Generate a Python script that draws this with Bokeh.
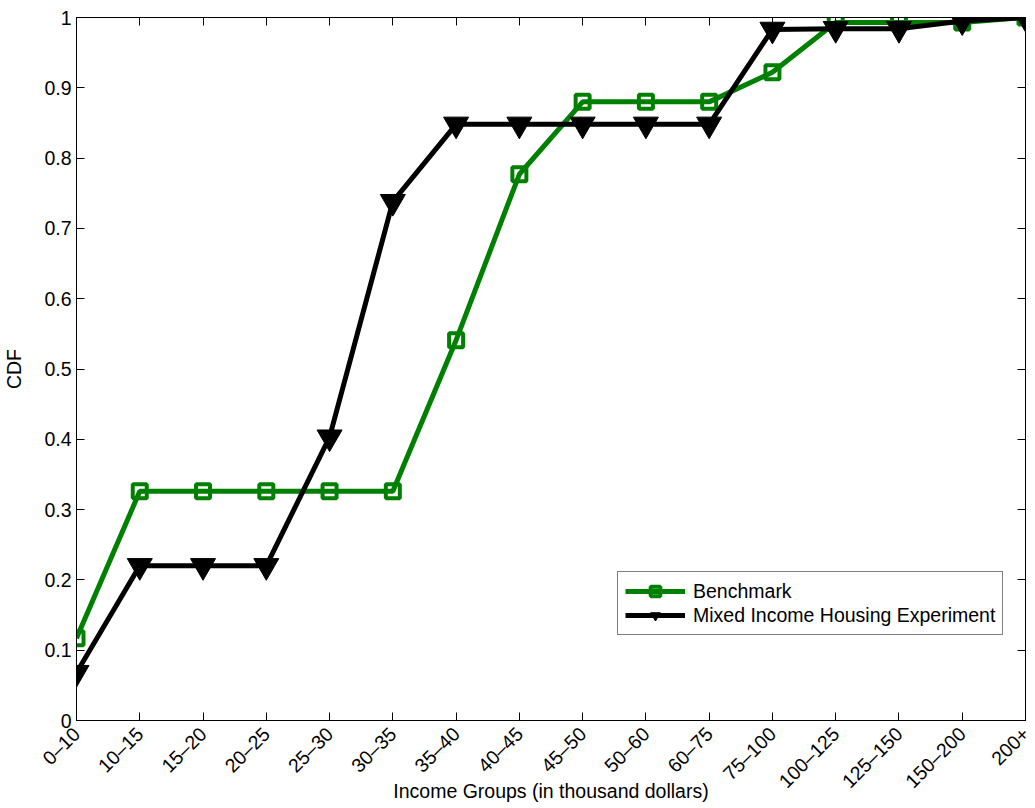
from math import pi
from bokeh.plotting import figure
from bokeh.models import (FixedTicker, LinearAxis, Legend, LegendItem, Range1d,
                          CustomLabelingPolicy)
from bokeh.embed import file_html
from bokeh.resources import INLINE

categories = ["0\u201310", "10\u201315", "15\u201320", "20\u201325", "25\u201330", "30\u201335",
              "35\u201340", "40\u201345", "45\u201350", "50\u201360", "60\u201375", "75\u2013100",
              "100\u2013125", "125\u2013150", "150\u2013200", "200+"]
benchmark = [0.117, 0.326, 0.326, 0.326, 0.326, 0.326, 0.541, 0.777, 0.880, 0.880,
             0.880, 0.922, 0.993, 0.993, 0.993, 1.0]
mixed = [0.068, 0.220, 0.220, 0.220, 0.403, 0.738, 0.848, 0.848, 0.848, 0.848,
         0.848, 0.983, 0.984, 0.984, 0.995, 1.0]
y_ticks = [0, 0.1, 0.2, 0.3, 0.4, 0.5, 0.6, 0.7, 0.8, 0.9, 1]
y_tick_labels = ["0", "0.1", "0.2", "0.3", "0.4", "0.5", "0.6", "0.7", "0.8", "0.9", "1"]

x_pos = list(range(len(categories)))
FONT = "Liberation Sans"
FS = "19.5px"

p = figure(frame_width=949, frame_height=703, output_backend="svg", toolbar_location=None,
           x_range=Range1d(0, len(categories) - 1), y_range=Range1d(0, 1),
           min_border_left=76, min_border_right=10, min_border_top=17, min_border_bottom=88)
p.grid.visible = False
p.outline_line_color = "black"
p.outline_line_width = 1
p.background_fill_color = "white"
p.border_fill_color = "white"

# x axis
xa = p.xaxis[0]
xa.ticker = FixedTicker(ticks=x_pos)
xa.major_label_overrides = {i: c for i, c in zip(x_pos, categories)}
xa.major_label_orientation = pi / 4
xa.major_tick_in = 8
xa.major_tick_out = 0
xa.minor_tick_line_color = None
xa.axis_label = "Income Groups (in thousand dollars)"

# y axis
ya = p.yaxis[0]
ya.ticker = FixedTicker(ticks=y_ticks)
ya.major_label_overrides = {t: l for t, l in zip(y_ticks, y_tick_labels)}
ya.major_tick_in = 8
ya.major_tick_out = 0
ya.minor_tick_line_color = None
ya.axis_label = "CDF"

for ax in (xa, ya):
    ax.axis_line_color = "black"
    ax.major_tick_line_color = "black"
    ax.major_label_text_font = FONT
    ax.major_label_text_font_size = FS
    ax.major_label_text_color = "black"
    ax.axis_label_text_font = FONT
    ax.axis_label_text_font_size = FS
    ax.axis_label_text_font_style = "normal"
    ax.axis_label_text_color = "black"
xa.major_label_standoff = 10
xa.axis_label_standoff = -23
ya.major_label_standoff = 5
ya.axis_label_standoff = 16

# mirrored ticks on top and right (no labels)
hide = "for (const i of indices) indices.unset(i); return indices"
top = LinearAxis(ticker=FixedTicker(ticks=x_pos), major_tick_in=8, major_tick_out=0,
                 minor_tick_line_color=None, major_label_standoff=0,
                 major_label_text_font_size="1px",
                 major_label_policy=CustomLabelingPolicy(code=hide),
                 axis_line_color="black", major_tick_line_color="black")
right = LinearAxis(ticker=FixedTicker(ticks=y_ticks), major_tick_in=8, major_tick_out=0,
                   minor_tick_line_color=None, major_label_standoff=0,
                   major_label_text_font_size="1px",
                   major_label_policy=CustomLabelingPolicy(code=hide),
                   axis_line_color="black", major_tick_line_color="black")
p.add_layout(top, "above")
p.add_layout(right, "right")

GREEN = "#008000"
l1 = p.line(x_pos, benchmark, line_color=GREEN, line_width=5)
s1 = p.scatter(x_pos, benchmark, marker="square", size=14, line_color=GREEN, line_width=4,
               fill_color=None)
l2 = p.line(x_pos, mixed, line_color="black", line_width=5)
s2 = p.scatter(x_pos, mixed, marker="inverted_triangle", size=25, line_color="black",
               fill_color="black")

legend = Legend(items=[LegendItem(label="Benchmark", renderers=[l1, s1]),
                       LegendItem(label="Mixed Income Housing Experiment", renderers=[l2, s2])],
                location=(541, 85))
legend.border_line_color = "black"
legend.border_line_width = 1
legend.background_fill_color = "white"
legend.background_fill_alpha = 1
legend.label_text_font = FONT
legend.label_text_font_size = FS
legend.label_text_color = "black"
legend.glyph_width = 60
legend.glyph_height = 24
legend.spacing = 0
legend.padding = 7
legend.margin = 0
legend.label_standoff = 8
p.add_layout(legend, "center")

open("out.html", "w").write(file_html(p, INLINE))
